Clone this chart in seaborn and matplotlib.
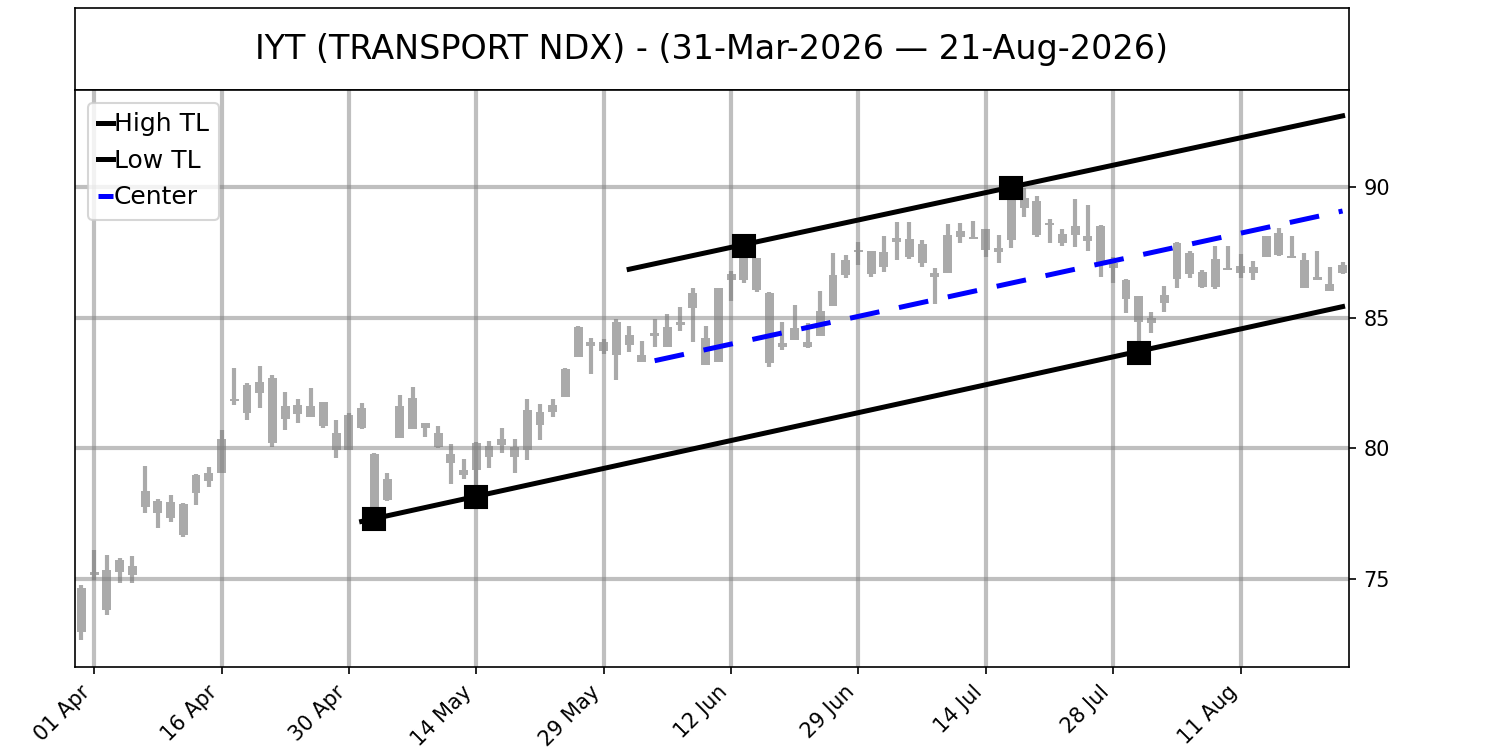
import numpy as np
import pandas as pd
import matplotlib
matplotlib.use("Agg")
import matplotlib.pyplot as plt
import seaborn as sns

# trading days 31-Mar-2026 .. 21-Aug-2026 (NYSE holidays removed)
START = "2026-03-31"
END = "2026-08-21"
HOLIDAYS = ["2026-04-03", "2026-05-25", "2026-06-19", "2026-07-03"]

# OHLC
high = [74.75, 76.10, 75.90, 75.81, 75.89, 79.33, 78.07, 78.22, 77.90, 79.00,
        79.29, 80.71, 83.08, 82.50, 83.15, 82.81, 82.16, 81.89, 82.31, 81.78,
        81.09, 81.36, 81.74, 79.80, 79.06, 82.05, 82.35, 80.97, 80.86, 80.17,
        79.60, 80.25, 80.29, 80.78, 80.36, 81.89, 81.70, 81.89, 83.08, 84.68,
        84.23, 84.20, 84.95, 84.68, 84.11, 84.95, 85.14, 85.41, 86.14, 84.68,
        86.14, 86.79, 87.75, 87.28, 85.98, 84.84, 85.49, 84.80, 86.02, 87.48,
        87.40, 87.90, 87.55, 88.13, 88.66, 88.66, 87.97, 86.90, 88.59, 88.62,
        88.70, 88.39, 88.16, 89.95, 89.96, 89.66, 88.78, 88.39, 89.54, 89.31,
        88.55, 87.32, 86.48, 85.83, 85.22, 86.21, 87.90, 87.55, 86.83, 87.74,
        87.74, 87.44, 87.17, 88.13, 88.43, 88.13, 87.48, 87.55, 86.94, 87.13]
low = [72.65, 74.95, 73.60, 74.86, 74.86, 77.53, 76.96, 77.19, 76.62, 77.84,
       78.53, 79.06, 81.66, 81.09, 81.55, 80.06, 80.71, 80.97, 81.20, 80.78,
       79.64, 79.94, 80.75, 77.30, 77.99, 80.40, 80.75, 80.44, 80.02, 78.64,
       78.83, 78.15, 79.25, 79.83, 79.06, 79.56, 80.30, 81.20, 81.97, 83.50,
       82.85, 83.60, 82.62, 83.69, 83.31, 83.88, 83.88, 84.49, 84.07, 83.19,
       83.31, 85.64, 86.33, 85.98, 83.12, 83.77, 84.15, 83.84, 84.30, 85.45,
       86.52, 87.02, 86.56, 86.75, 87.21, 87.25, 86.94, 85.53, 86.71, 87.86,
       88.01, 87.32, 87.09, 87.67, 88.85, 88.09, 87.86, 87.74, 87.71, 87.55,
       86.56, 86.33, 85.18, 83.65, 84.42, 85.22, 86.14, 86.52, 86.14, 86.10,
       86.83, 86.52, 86.44, 87.32, 87.36, 87.29, 86.14, 86.44, 86.02, 86.67]
open_ = [72.95, 75.16, 75.35, 75.28, 75.51, 77.76, 77.99, 77.95, 77.88, 78.30,
         78.76, 79.06, 81.89, 82.43, 82.12, 82.70, 81.13, 81.66, 81.20, 81.78,
         80.59, 79.94, 81.55, 79.79, 78.03, 80.40, 80.75, 80.97, 80.59, 79.79,
         79.18, 79.18, 79.67, 80.13, 80.06, 79.94, 80.90, 81.40, 81.97, 83.50,
         84.07, 84.07, 84.84, 83.96, 83.58, 84.30, 83.88, 84.72, 85.37, 84.23,
         83.31, 86.44, 86.44, 87.28, 85.95, 84.03, 84.15, 84.07, 84.30, 85.45,
         86.63, 87.51, 87.55, 86.94, 87.90, 87.32, 87.82, 86.71, 86.71, 88.09,
         88.09, 88.39, 87.67, 87.97, 89.20, 89.46, 88.62, 87.86, 88.16, 88.13,
         88.51, 87.09, 86.44, 85.83, 84.80, 85.56, 86.48, 87.48, 86.75, 86.18,
         86.90, 86.71, 86.94, 87.32, 87.40, 87.36, 87.21, 86.56, 86.29, 86.71]
close = [74.65, 75.28, 73.82, 75.74, 75.16, 78.37, 77.53, 77.34, 76.69, 78.99,
         79.06, 80.36, 81.82, 81.36, 82.54, 80.21, 81.63, 81.32, 81.63, 80.86,
         79.94, 81.28, 80.78, 77.50, 78.83, 81.63, 81.93, 80.78, 80.06, 79.45,
         78.99, 80.21, 80.10, 80.36, 79.67, 81.47, 81.40, 81.66, 83.05, 84.65,
         83.92, 83.73, 83.58, 84.34, 83.31, 84.42, 84.65, 84.84, 85.95, 83.19,
         86.14, 86.67, 87.28, 86.06, 83.27, 83.88, 84.61, 83.88, 85.26, 86.63,
         87.21, 87.59, 86.67, 87.51, 88.05, 88.01, 87.09, 86.56, 88.16, 88.32,
         88.01, 87.59, 87.51, 89.58, 89.58, 88.16, 88.55, 88.20, 88.51, 87.93,
         87.09, 86.90, 85.72, 84.84, 85.00, 85.87, 87.86, 86.67, 86.18, 87.25,
         86.83, 86.98, 86.71, 88.13, 88.24, 87.29, 86.14, 86.44, 86.02, 87.02]

# trend channel
high_tl_idx = [43, 99]
high_tl_val = [86.85, 92.72]
low_tl_idx = [22, 99]
low_tl_val = [77.20, 85.42]
center_idx = [45, 99]
center_val = [83.35, 89.08]
high_pivot_idx = [52, 73]
high_pivot_val = [87.75, 89.95]
low_pivot_idx = [23, 31, 83]
low_pivot_val = [77.30, 78.15, 83.65]

TICK_EVERY = 10
TITLE = "IYT (TRANSPORT NDX) - (31-Mar-2026 \u2014 21-Aug-2026)"

dates = pd.bdate_range(START, END).drop(pd.to_datetime(HOLIDAYS))
df = pd.DataFrame({"open": open_, "high": high, "low": low, "close": close})
df["x"] = np.arange(len(df))
df["top"] = df[["open", "close"]].max(axis=1)
df["bot"] = df[["open", "close"]].min(axis=1)

fig = plt.figure(figsize=(10, 5), dpi=150)
ax_t = fig.add_axes([0.05, 0.88, 0.8493, 0.1093])
ax_t.set_xticks([])
ax_t.set_yticks([])
ax_t.text(0.5, 0.5, TITLE, ha="center", va="center", fontsize=16,
          transform=ax_t.transAxes)

ax = fig.add_axes([0.05, 0.1107, 0.8493, 0.7693])
ax.grid(True, color="gray", alpha=0.5, linewidth=2)
ax.set_axisbelow(True)

# candles: wick pieces outside body so alpha doesn't stack
cc = "gray"
ca = 0.67
ax.vlines(df["x"], df["top"], df["high"], color=cc, alpha=ca, linewidth=2)
ax.vlines(df["x"], df["low"], df["bot"], color=cc, alpha=ca, linewidth=2)
h = (df["top"] - df["bot"]).clip(lower=0.07)
ax.bar(df["x"], h, bottom=df["bot"], width=0.7, color=cc, alpha=ca,
       linewidth=0)

sns.lineplot(x=high_tl_idx, y=high_tl_val, color="black", linewidth=2.4,
             label="High TL", ax=ax)
sns.lineplot(x=low_tl_idx, y=low_tl_val, color="black", linewidth=2.4,
             label="Low TL", ax=ax)
sns.lineplot(x=center_idx, y=center_val, color="blue", linewidth=2.4,
             dashes=(6, 4), label="Center", ax=ax)
ax.plot(high_pivot_idx, high_pivot_val, "s", color="black", markersize=10.5,
        zorder=5)
ax.plot(low_pivot_idx, low_pivot_val, "s", color="black", markersize=10.5,
        zorder=5)

ax.set_xlim(-0.5, len(df) - 0.5)
ax.set_ylim(71.63, 93.71)
ticks = np.arange(1, len(df), TICK_EVERY)
ax.set_xticks(ticks)
ax.set_xticklabels([dates[i].strftime("%d %b") for i in ticks],
                   rotation=45, ha="right")
ax.set_yticks([75, 80, 85, 90])
ax.yaxis.tick_right()
ax.set_xlabel("")
ax.set_ylabel("")
ax.legend(loc="upper left", fontsize=12, handlelength=0.6,
          handletextpad=0.05)

fig.savefig("out.png", dpi=150)
